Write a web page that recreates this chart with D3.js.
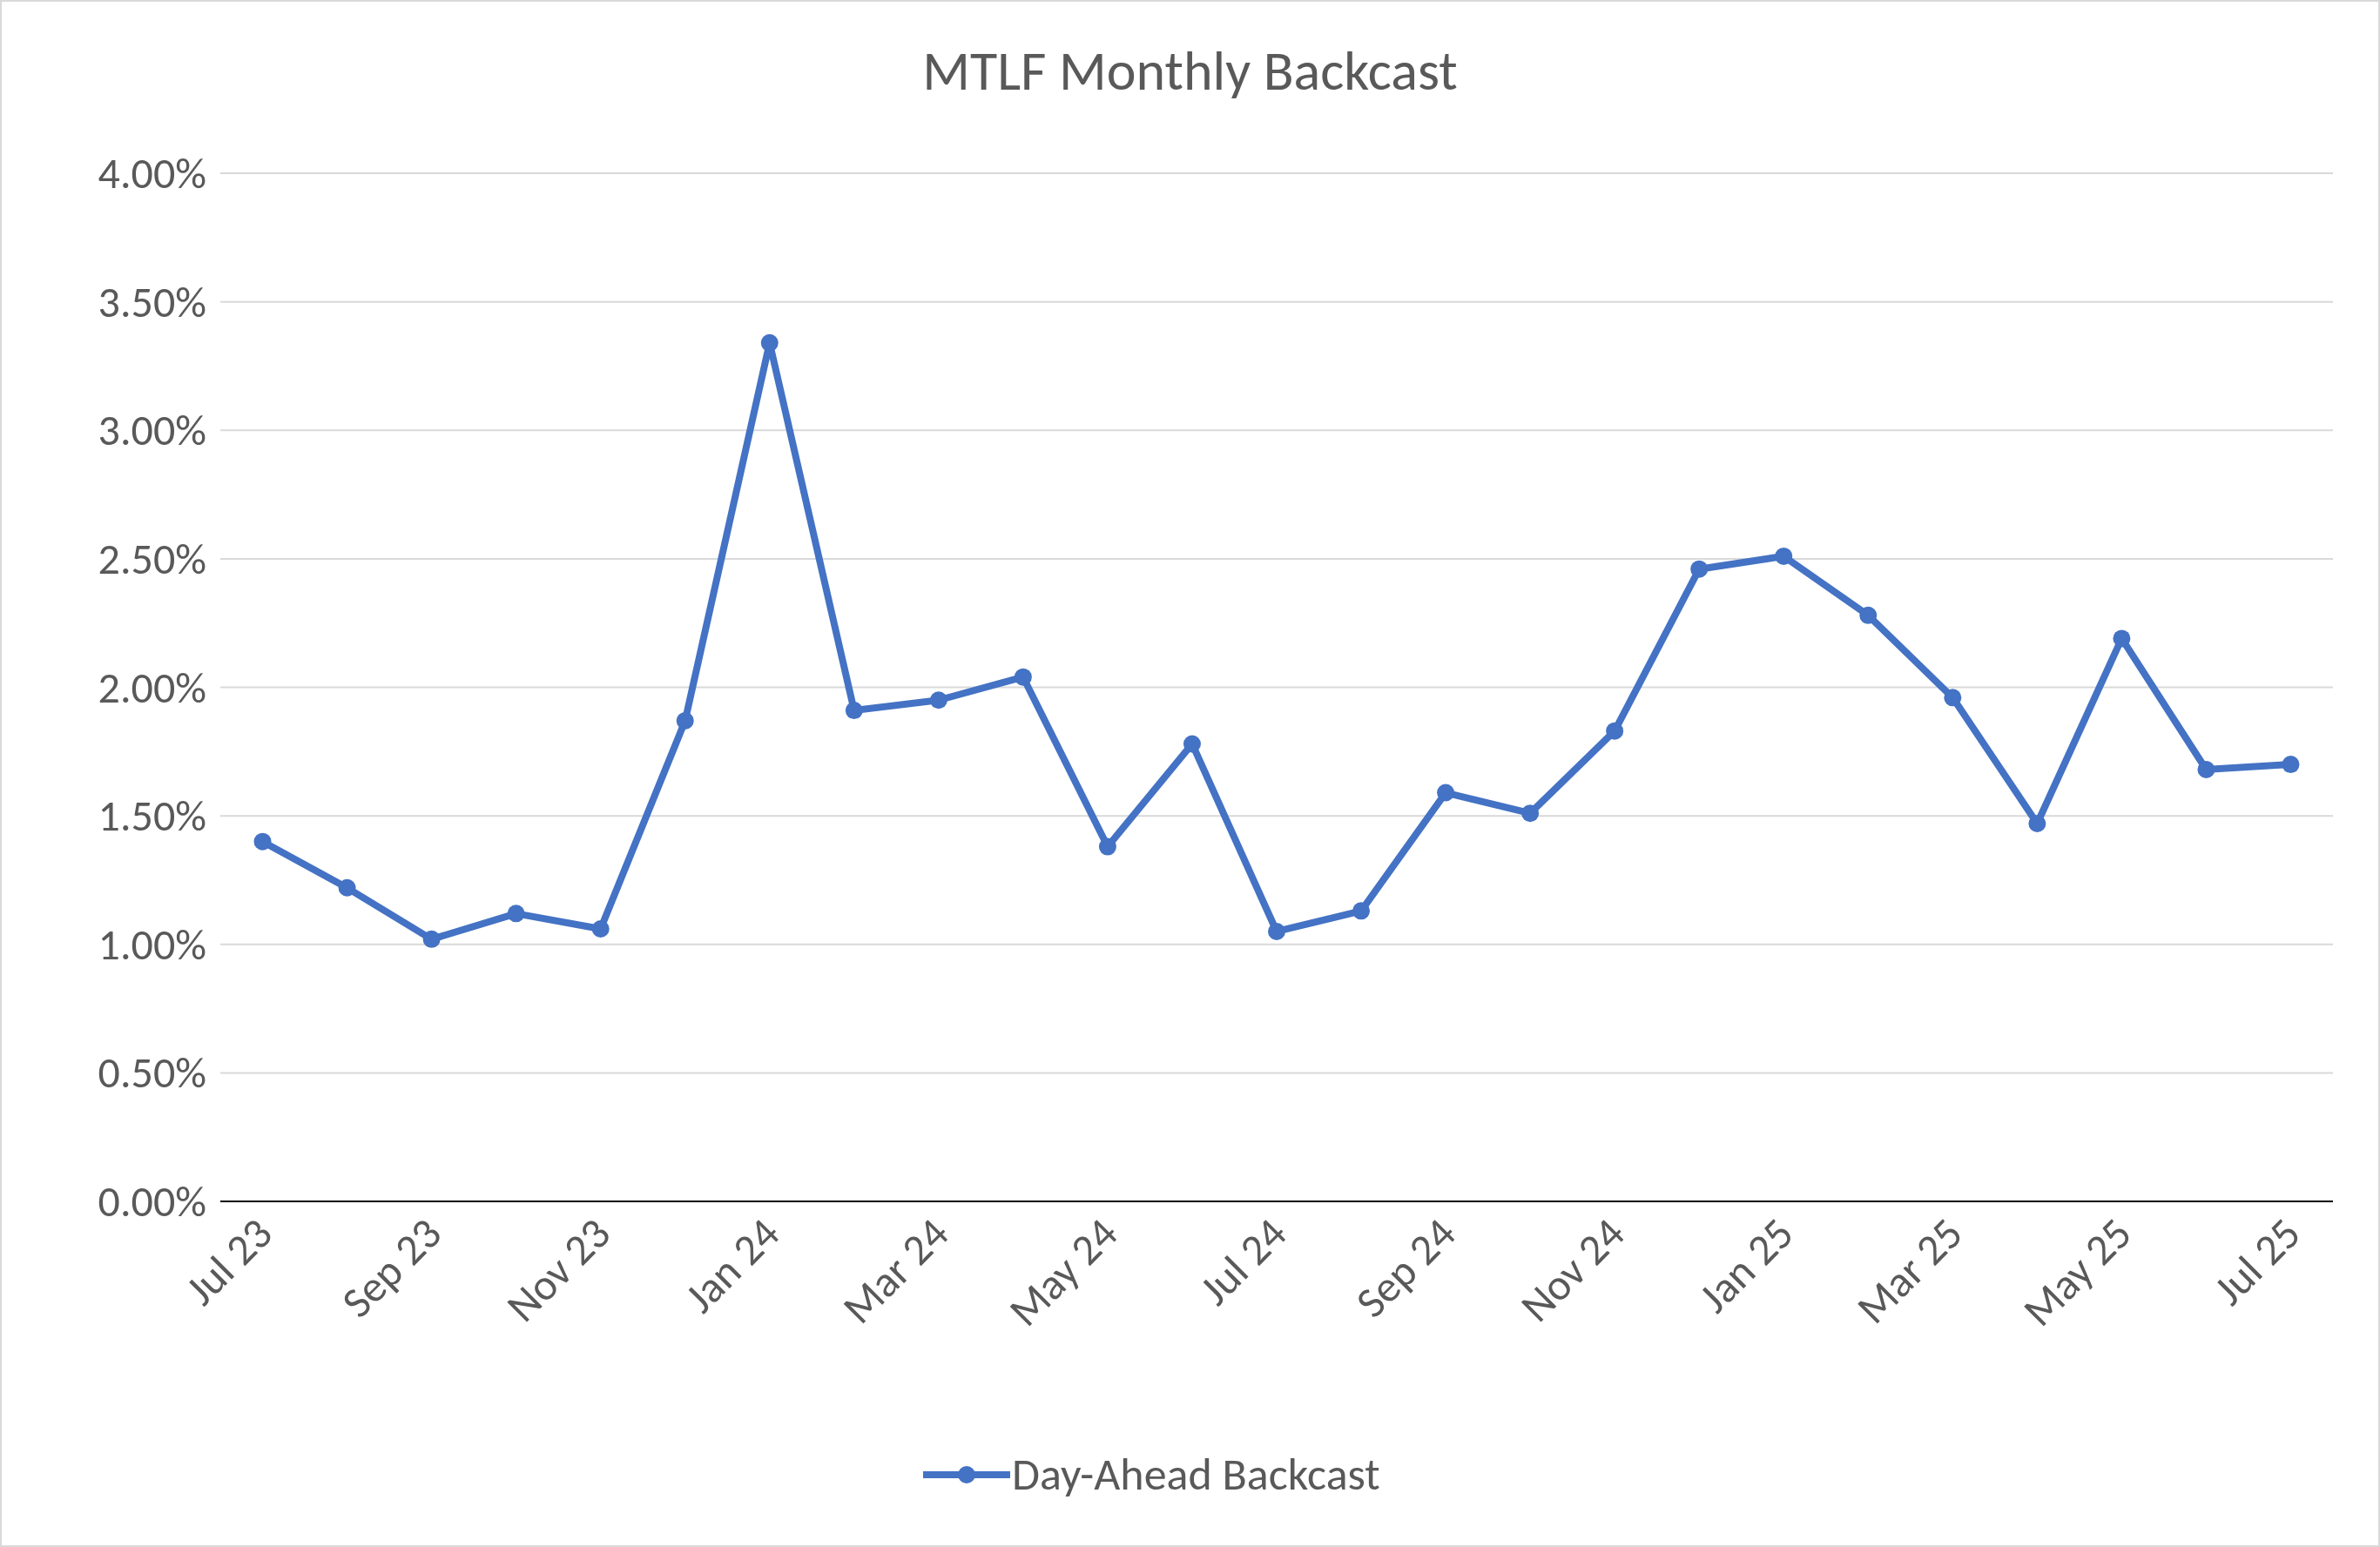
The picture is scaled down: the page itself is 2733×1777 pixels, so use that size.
<!DOCTYPE html>
<html><head><meta charset="utf-8">
<script src="https://cdn.jsdelivr.net/npm/d3@7"></script>
<style>body{margin:0;background:#fff}text{font-family:Calibri,Carlito,"Liberation Sans",sans-serif;fill:#595959}</style>
</head><body><svg id="c" width="2733" height="1777"></svg>
<script>
var months = ["Jul 23","Aug 23","Sep 23","Oct 23","Nov 23","Dec 23","Jan 24","Feb 24","Mar 24","Apr 24","May 24","Jun 24",
  "Jul 24","Aug 24","Sep 24","Oct 24","Nov 24","Dec 24","Jan 25","Feb 25","Mar 25","Apr 25","May 25","Jun 25","Jul 25"];
var backcast = [1.40,1.22,1.02,1.12,1.06,1.87,3.34,1.91,1.95,2.04,1.38,1.78,1.05,1.13,1.59,1.51,1.83,2.46,2.51,2.28,1.96,1.47,2.19,1.68,1.70];
var yTicks = [0,0.5,1,1.5,2,2.5,3,3.5,4];

var svg = d3.select("#c");
var W = 2733, H = 1777, m = {l:253, r:54, t:199, b:397};
svg.append("rect").attr("x",1).attr("y",1).attr("width",W-2).attr("height",H-2).attr("fill","#fff").attr("stroke","#d9d9d9").attr("stroke-width",2);

var x = d3.scalePoint().domain(months).range([m.l, W-m.r]).padding(0.5);
var y = d3.scaleLinear().domain([0,4]).range([H-m.b, m.t]);

svg.append("text").attr("x",W/2).attr("y",103).attr("text-anchor","middle").attr("font-size",64).text("MTLF Monthly Backcast");

// gridlines
svg.selectAll(".grid").data(yTicks).enter().append("line")
  .attr("x1",m.l).attr("x2",W-m.r).attr("y1",d=>y(d)).attr("y2",d=>y(d))
  .attr("stroke",d=>d===0?"#000":"#d9d9d9").attr("stroke-width",d=>d===0?2:2);
svg.selectAll(".yl").data(yTicks).enter().append("text")
  .attr("x",m.l-16).attr("y",d=>y(d)+17).attr("text-anchor","end").attr("font-size",50)
  .text(d=>d.toFixed(2)+"%");

// x labels every other month
svg.selectAll(".xl").data(months.filter((d,i)=>i%2===0)).enter().append("text")
  .attr("transform",d=>"translate("+(x(d)+14)+","+(H-m.b+40)+") rotate(-45)")
  .attr("text-anchor","end").attr("font-size",50).text(d=>d);

var line = d3.line().x((d,i)=>x(months[i])).y(d=>y(d));
svg.append("path").datum(backcast).attr("d",line).attr("fill","none")
  .attr("stroke","#4472C4").attr("stroke-width",8).attr("stroke-linejoin","round");
svg.selectAll(".pt").data(backcast).enter().append("circle")
  .attr("cx",(d,i)=>x(months[i])).attr("cy",d=>y(d)).attr("r",10).attr("fill","#4472C4");

// legend
var lg = svg.append("g").attr("transform","translate(1060,1694)");
lg.append("line").attr("x1",0).attr("x2",100).attr("stroke","#4472C4").attr("stroke-width",8);
lg.append("circle").attr("cx",50).attr("r",10).attr("fill","#4472C4");
lg.append("text").attr("x",102).attr("y",17).attr("font-size",52).text("Day-Ahead Backcast");
</script></body></html>
